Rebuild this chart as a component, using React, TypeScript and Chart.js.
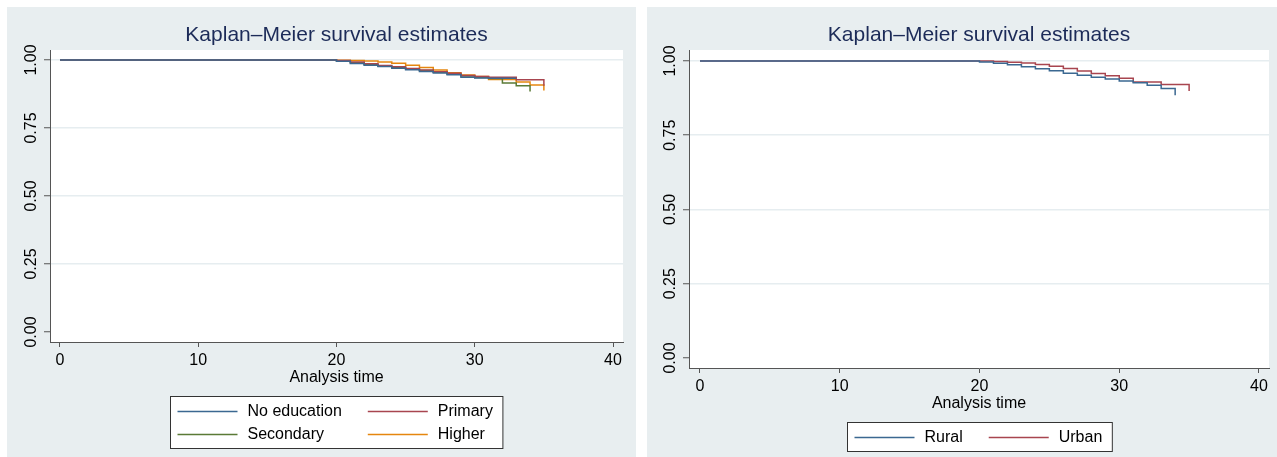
import React, { useEffect, useRef } from "react";
import { Chart, registerables } from "chart.js";

Chart.register(...registerables);

const FONT = '"Liberation Sans", Arial, Helvetica, sans-serif';
const TITLE = "Kaplan–Meier survival estimates";
const X_TITLE = "Analysis time";

// ---- Left panel: education ----
const noEduTime = [0, 20, 21, 22, 23, 24, 25, 26, 27, 28, 29, 30, 31, 33];
const noEduSurv = [1, 0.995, 0.987, 0.981, 0.976, 0.97, 0.964, 0.958, 0.952, 0.946, 0.937, 0.934, 0.933, 0.933];
const primaryTime = [0, 20, 21, 22, 23, 24, 25, 26, 27, 28, 29, 30, 31, 33, 35];
const primarySurv = [1, 0.998, 0.993, 0.986, 0.98, 0.975, 0.969, 0.963, 0.957, 0.951, 0.943, 0.939, 0.937, 0.927, 0.905];
const secondaryTime = [0, 20, 21, 22, 23, 24, 25, 26, 27, 28, 29, 30, 31, 32, 33, 34];
const secondarySurv = [1, 0.996, 0.99, 0.983, 0.977, 0.972, 0.966, 0.961, 0.955, 0.948, 0.941, 0.936, 0.932, 0.915, 0.905, 0.884];
const higherTime = [0, 20, 21, 22, 23, 24, 25, 26, 27, 28, 29, 30, 31, 33, 34, 35];
const higherSurv = [1, 0.999, 0.998, 0.996, 0.993, 0.988, 0.981, 0.972, 0.963, 0.953, 0.945, 0.939, 0.928, 0.919, 0.908, 0.888];

// ---- Right panel: residence ----
const ruralTime = [0, 20, 21, 22, 23, 24, 25, 26, 27, 28, 29, 30, 31, 32, 33, 34];
const ruralSurv = [1, 0.997, 0.992, 0.987, 0.981, 0.974, 0.967, 0.959, 0.952, 0.945, 0.939, 0.933, 0.927, 0.918, 0.907, 0.885];
const urbanTime = [0, 21, 22, 23, 24, 25, 26, 27, 28, 29, 30, 31, 33, 35];
const urbanSurv = [1, 0.998, 0.996, 0.993, 0.988, 0.982, 0.975, 0.966, 0.958, 0.95, 0.942, 0.929, 0.921, 0.899];

const xTicks = [0, 10, 20, 30, 40];
const yTicks = [0, 0.25, 0.5, 0.75, 1];

const BLUE = "#3b6891";
const RED = "#a8454f";
const GREEN = "#5a7a36";
const ORANGE = "#e5860f";

const PANEL_BG = "#e8eef0";
const GRID = "#e6edf0";
const AXIS = "#555555";
const TITLE_COLOR = "#1c2b58";

type Series = { label: string; color: string; time: number[]; surv: number[] };

const leftSeries: Series[] = [
  { label: "No education", color: BLUE, time: noEduTime, surv: noEduSurv },
  { label: "Primary", color: RED, time: primaryTime, surv: primarySurv },
  { label: "Secondary", color: GREEN, time: secondaryTime, surv: secondarySurv },
  { label: "Higher", color: ORANGE, time: higherTime, surv: higherSurv },
];
const rightSeries: Series[] = [
  { label: "Rural", color: BLUE, time: ruralTime, surv: ruralSurv },
  { label: "Urban", color: RED, time: urbanTime, surv: urbanSurv },
];

const stataPlugin = {
  id: "stata",
  beforeDraw(chart: any) {
    const { ctx, chartArea: a } = chart;
    ctx.save();
    ctx.fillStyle = "#ffffff";
    ctx.fillRect(a.left, a.top, a.right - a.left, a.bottom - a.top);
    ctx.restore();
  },
  afterDraw(chart: any, _args: any, opts: any) {
    const { ctx, chartArea: a } = chart;
    const cx = (a.left + a.right) / 2;
    ctx.save();
    // Title
    ctx.fillStyle = TITLE_COLOR;
    ctx.font = `21px ${FONT}`;
    ctx.textAlign = "center";
    ctx.textBaseline = "middle";
    ctx.fillText(opts.title, cx, opts.titleY);

    // Rotated y tick labels
    const ys = chart.scales.y;
    ctx.fillStyle = "#000";
    ctx.font = `16px ${FONT}`;
    for (const t of ys.ticks) {
      const py = ys.getPixelForValue(t.value);
      ctx.save();
      ctx.translate(a.left - 18, py);
      ctx.rotate(-Math.PI / 2);
      ctx.textAlign = "center";
      ctx.textBaseline = "middle";
      ctx.fillText(Number(t.value).toFixed(2), 0, 0);
      ctx.restore();
    }

    // Legend box
    const ds = chart.data.datasets;
    const rows = Math.ceil(ds.length / 2);
    ctx.font = `16px ${FONT}`;
    let w1 = 0;
    let w2 = 0;
    ds.forEach((d: any, i: number) => {
      const w = ctx.measureText(d.label).width;
      if (i % 2 === 0) w1 = Math.max(w1, w);
      else w2 = Math.max(w2, w);
    });
    const lineLen = 60, padL = 7, gapLT = 10, gapCol = 26, padR = 10;
    const boxW = padL + lineLen + gapLT + w1 + gapCol + lineLen + gapLT + w2 + padR;
    const boxH = 29 + (rows - 1) * 23;
    const bx = Math.round(cx - boxW / 2) + 0.5;
    const by = Math.round(a.bottom + 53.5) + 0.5;
    ctx.fillStyle = "#ffffff";
    ctx.fillRect(bx, by, boxW, boxH);
    ctx.strokeStyle = "#333333";
    ctx.lineWidth = 1;
    ctx.strokeRect(bx, by, boxW, boxH);
    const col2 = padL + lineLen + gapLT + w1 + gapCol;
    ds.forEach((d: any, i: number) => {
      const r = Math.floor(i / 2);
      const c = i % 2;
      const x0 = bx + (c === 0 ? padL : col2);
      const yy = by + 15 + r * 23;
      ctx.strokeStyle = d.borderColor;
      ctx.lineWidth = 1.5;
      ctx.beginPath();
      ctx.moveTo(x0, yy);
      ctx.lineTo(x0 + lineLen, yy);
      ctx.stroke();
      ctx.fillStyle = "#000";
      ctx.textAlign = "left";
      ctx.textBaseline = "middle";
      ctx.fillText(d.label, x0 + lineLen + gapLT, yy + 0.5);
    });
    ctx.restore();
  },
};

type PanelProps = {
  left: number;
  width: number;
  height: number;
  area: { left: number; top: number; right: number; bottom: number };
  xRange: [number, number];
  yRange: [number, number];
  series: Series[];
  xTitleBottom: number;
};

function KMPanel(p: PanelProps) {
  const ref = useRef<HTMLCanvasElement | null>(null);
  useEffect(() => {
    if (!ref.current) return;
    const chart = new Chart(ref.current, {
      type: "line",
      data: {
        datasets: p.series.map((s) => ({
          label: s.label,
          data: s.time.map((t, i) => ({ x: t, y: s.surv[i] })),
          borderColor: s.color,
          backgroundColor: s.color,
          borderWidth: 1.5,
          pointRadius: 0,
          stepped: true,
          tension: 0,
          fill: false,
        })),
      },
      options: {
        animation: false,
        responsive: false,
        devicePixelRatio: 1,
        events: [],
        layout: {
          padding: { top: p.area.top, left: 0, right: p.width - p.area.right, bottom: 0 },
        },
        font: { family: FONT, size: 16 },
        color: "#000",
        plugins: {
          legend: { display: false },
          title: { display: false },
          tooltip: { enabled: false },
          stata: { title: TITLE, titleY: 28.5 },
        } as any,
        scales: {
          x: {
            type: "linear",
            min: p.xRange[0],
            max: p.xRange[1],
            afterFit: (s: any) => {
              s.height = p.height - p.area.bottom;
            },
            afterBuildTicks: (s: any) => {
              s.ticks = xTicks.map((v) => ({ value: v }));
            },
            ticks: {
              includeBounds: false,
              stepSize: 10,
              padding: 3.5,
              color: "#000",
              maxRotation: 0,
              font: { family: FONT, size: 16 },
              callback: (v: any) => String(v),
            },
            grid: {
              drawOnChartArea: false,
              drawTicks: true,
              tickLength: 5,
              tickColor: AXIS,
              tickWidth: 1,
            },
            border: { display: true, color: AXIS, width: 1 },
            title: {
              display: true,
              text: X_TITLE,
              color: "#000",
              font: { family: FONT, size: 16 },
              padding: { top: 0, bottom: p.xTitleBottom },
            },
          },
          y: {
            type: "linear",
            min: p.yRange[0],
            max: p.yRange[1],
            afterFit: (s: any) => {
              s.width = p.area.left;
            },
            afterBuildTicks: (s: any) => {
              s.ticks = yTicks.map((v) => ({ value: v }));
            },
            ticks: { display: false, includeBounds: false, stepSize: 0.25 },
            grid: {
              drawOnChartArea: true,
              drawTicks: true,
              tickLength: 6,
              tickColor: AXIS,
              tickWidth: 1,
              lineWidth: 1.5,
              color: (c: any) => (c.tick && c.tick.value === 0 ? "rgba(0,0,0,0)" : GRID),
            },
            border: { display: true, color: AXIS, width: 1 },
          },
        },
      } as any,
      plugins: [stataPlugin as any],
    });
    return () => chart.destroy();
  }, []);
  return (
    <div
      style={{
        position: "absolute",
        left: p.left,
        top: 7,
        width: p.width,
        height: p.height,
        background: PANEL_BG,
      }}
    >
      <canvas ref={ref} width={p.width} height={p.height} style={{ display: "block", width: p.width, height: p.height }} />
    </div>
  );
}

export default function App() {
  return (
    <div style={{ position: "absolute", left: 0, top: 0, width: 1277, height: 457, background: "#ffffff", overflow: "hidden" }}>
      <KMPanel
        left={7}
        width={629}
        height={450}
        area={{ left: 43, top: 43, right: 616, bottom: 335 }}
        xRange={[-0.7233, 40.7233]}
        yRange={[-0.03676, 1.03676]}
        series={leftSeries}
        xTitleBottom={69.4}
      />
      <KMPanel
        left={647}
        width={630}
        height={450}
        area={{ left: 42, top: 43, right: 622, bottom: 361 }}
        xRange={[-0.787, 40.7156]}
        yRange={[-0.03367, 1.037]}
        series={rightSeries}
        xTitleBottom={43.4}
      />
    </div>
  );
}
